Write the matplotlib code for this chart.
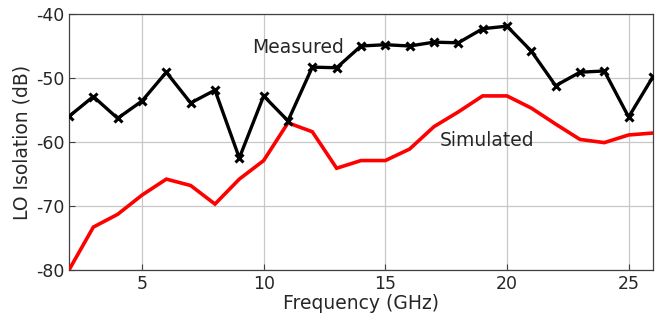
import matplotlib
matplotlib.use("Agg")
import matplotlib.pyplot as plt

freq = list(range(2, 27))
measured = [-56.0, -52.9, -56.3, -53.6, -49.1, -53.9, -51.9, -62.5, -52.8, -56.7,
            -48.3, -48.4, -45.0, -44.8, -45.0, -44.4, -44.5, -42.3, -41.9, -45.8,
            -51.2, -49.1, -48.9, -56.1, -49.8]
simulated = [-80.0, -73.3, -71.3, -68.3, -65.8, -66.8, -69.7, -65.8, -62.9, -57.0,
             -58.4, -64.1, -62.9, -62.9, -61.1, -57.6, -55.3, -52.8, -52.8, -54.7,
             -57.2, -59.6, -60.1, -58.9, -58.6]
xticks = [5, 10, 15, 20, 25]
yticks = [-80, -70, -60, -50, -40]

plt.rcParams['font.family'] = ['DejaVu Sans']
plt.rcParams['axes.unicode_minus'] = False
fig = plt.figure(figsize=(6.64, 3.24), dpi=100)
ax = fig.add_axes([0.1039, 0.1667, 0.8795, 0.7901])

ax.plot(freq, simulated, color='#ff0000', lw=2.6, solid_joinstyle='miter', zorder=3)
ax.plot(freq, measured, color='black', lw=2.4, marker='x', ms=6, mew=2.2, zorder=4)

ax.set_xlim(2, 26)
ax.set_ylim(-80, -40)
ax.set_xticks(xticks)
ax.set_yticks(yticks)
ax.grid(True, color='#c8c8c8', lw=0.9)
ax.set_axisbelow(True)
ax.tick_params(direction='in', length=4, colors='#404040', labelsize=12.5, labelcolor='#262626')
for s in ax.spines.values():
    s.set_color('#404040')
    s.set_linewidth(0.9)

ax.set_xlabel('Frequency (GHz)', fontsize=13.5, color='#262626', labelpad=1)
ax.set_ylabel('LO Isolation (dB)', fontsize=13.5, color='#262626', labelpad=3)

ax.text(11.4, -45.2, 'Measured', fontsize=13.5, color='#262626', ha='center', va='center')
ax.text(19.2, -59.8, 'Simulated', fontsize=13.5, color='#262626', ha='center', va='center')

fig.savefig('out.png', dpi=100)
